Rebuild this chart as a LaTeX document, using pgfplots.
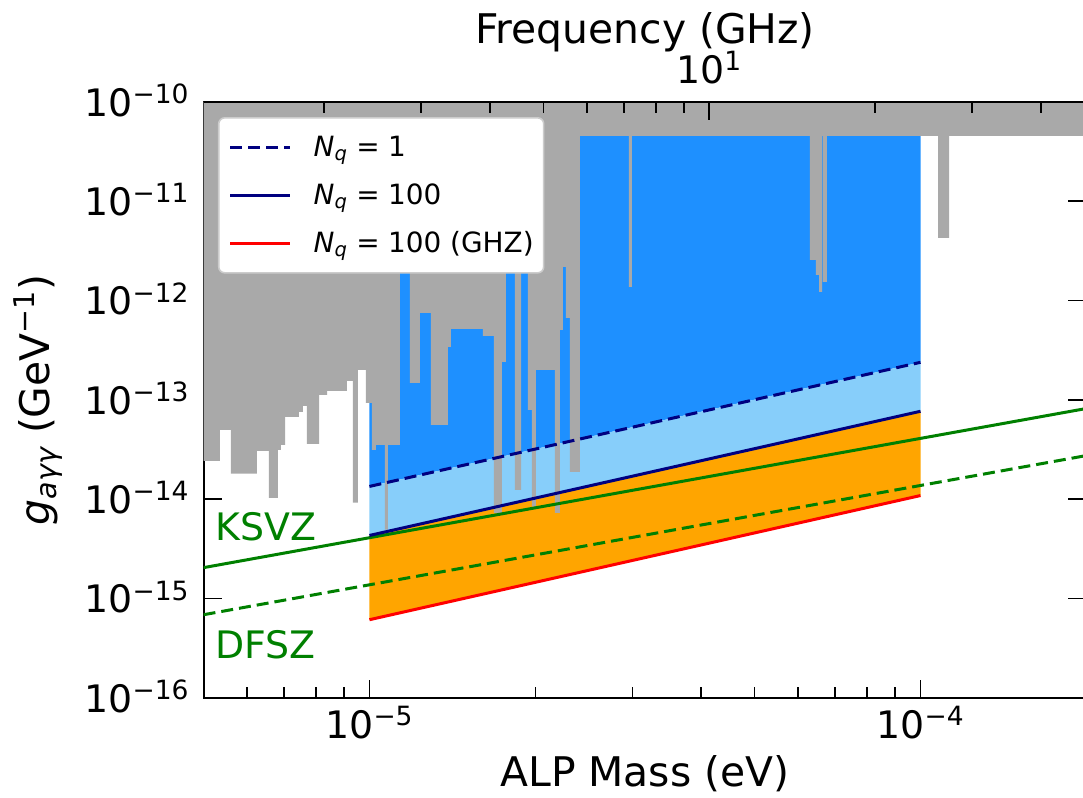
\documentclass[border=0pt]{standalone}
\usepackage{fontspec}
\setmainfont{DejaVu Sans}
\usepackage{pgfplots}
\pgfplotsset{compat=1.18}
\definecolor{greyreg}{RGB}{169,169,169}
\definecolor{dodger}{RGB}{30,144,255}
\definecolor{lskyblue}{RGB}{135,206,250}
\definecolor{orng}{RGB}{255,165,0}
\definecolor{navyc}{RGB}{0,0,128}
\definecolor{greenc}{RGB}{0,128,0}
\newcommand{\nq}{{\itshape N}\textsubscript{\itshape q}\hspace{0.3em}=\hspace{0.3em}}
\begin{document}
\begin{tikzpicture}
\begin{axis}[
  at={(0,0)}, anchor=south west,
  scale only axis, width=441.4bp, height=298bp,
  xmode=log, ymode=log,
  xmin=5e-6, xmax=2e-4, ymin=1e-16, ymax=1e-10,
  axis line style={line width=1bp},
  tick style={line width=0.8bp, black},
  major tick length=9bp, minor tick length=5.5bp,
  tick align=inside,
  xtick pos=left, ytick pos=both, yticklabel pos=left,
  xtick={1e-5,1e-4},
  xticklabels={10\textsuperscript{−5},10\textsuperscript{−4}},
  minor xtick={6e-6,7e-6,8e-6,9e-6,2e-5,3e-5,4e-5,5e-5,6e-5,7e-5,8e-5,9e-5},
  ytick={1e-16,1e-15,1e-14,1e-13,1e-12,1e-11,1e-10},
  yticklabels={10\textsuperscript{−16},10\textsuperscript{−15},10\textsuperscript{−14},10\textsuperscript{−13},10\textsuperscript{−12},10\textsuperscript{−11},10\textsuperscript{−10}},
  yminorticks=false,
  tick label style={font=\fontsize{19}{22}\selectfont},
  xticklabel style={anchor=base, inner sep=0pt, yshift=-20.15bp},
  yticklabel style={anchor=base east, inner sep=0pt, xshift=-6.8bp, yshift=-7.2bp},
  xlabel={ALP Mass (eV)},
  xlabel style={at={(axis description cs:0.5,-0.1482)}, anchor=base, inner sep=0pt, font=\fontsize{20.5}{24}\selectfont},
  ylabel={{\itshape g}\textsubscript{\itshape aγγ} (GeV\textsuperscript{−1})},
  ylabel style={at={(axis description cs:-0.174,0.5)}, anchor=base, inner sep=0pt, font=\fontsize{20.5}{24}\selectfont},
  legend cell align=left,
  legend style={at={(axis description cs:0.0163,0.9743)}, anchor=north west,
    draw=black!20, line width=0.8bp, rounded corners=3bp, fill=white,
    inner xsep=5bp, inner ysep=2.75bp, font=\fontsize{14}{16}\selectfont,
    nodes={inner sep=0pt, minimum height=24bp},
    /tikz/every odd column/.append style={column sep=11bp},
    /tikz/every even column/.append style={column sep=0bp}},
  legend image code/.code={\draw[#1] (0bp,0bp) -- (30bp,0bp);},
]
% projected sensitivity regions
\addplot[fill=dodger, draw=none, forget plot] coordinates {(1e-5,4.52e-11) (1e-4,4.52e-11) (1e-4,2.38e-13) (1e-5,1.34e-14)} -- cycle;
\addplot[fill=lskyblue, draw=none, forget plot] coordinates {(1e-5,1.34e-14) (1e-4,2.38e-13) (1e-4,7.65e-14) (1e-5,4.3e-15)} -- cycle;
\addplot[fill=orng, draw=none, forget plot] coordinates {(1e-5,4.3e-15) (1e-4,7.65e-14) (1e-4,1.085e-14) (1e-5,6.1e-16)} -- cycle;
% existing limits
\addplot[fill=greyreg, draw=none, forget plot] coordinates {
(5e-6,1e-10)
(5e-6,2.43e-14) (5.355e-6,2.43e-14)
(5.355e-6,4.98e-14) (5.606e-6,4.98e-14)
(5.606e-6,1.80e-14) (6.25e-6,1.80e-14)
(6.25e-6,3.06e-14) (6.57e-6,3.06e-14)
(6.57e-6,1.03e-14) (6.82e-6,1.03e-14)
(6.82e-6,3.13e-14) (6.91e-6,3.13e-14)
(6.91e-6,3.52e-14) (7.03e-6,3.52e-14)
(7.03e-6,6.73e-14) (7.45e-6,6.73e-14)
(7.45e-6,7.55e-14) (7.57e-6,7.55e-14)
(7.57e-6,8.68e-14) (7.70e-6,8.68e-14)
(7.70e-6,3.60e-14) (8.10e-6,3.60e-14)
(8.10e-6,1.12e-13) (8.375e-6,1.12e-13)
(8.375e-6,1.23e-13) (9.10e-6,1.23e-13)
(9.10e-6,1.55e-13) (9.333e-6,1.55e-13)
(9.333e-6,9.18e-15) (9.53e-6,9.18e-15)
(9.53e-6,2.00e-13) (9.85e-6,2.00e-13)
(9.85e-6,9.31e-14) (1.0105e-5,9.31e-14)
(1.0105e-5,3.13e-14) (1.0275e-5,3.13e-14)
(1.0275e-5,3.52e-14) (1.067e-5,3.52e-14)
(1.067e-5,4.91e-15) (1.080e-5,4.91e-15)
(1.080e-5,3.52e-14) (1.136e-5,3.52e-14)
(1.136e-5,3.22e-12) (1.184e-5,3.22e-12)
(1.184e-5,1.48e-13) (1.235e-5,1.48e-13)
(1.235e-5,7.48e-13) (1.293e-5,7.48e-13)
(1.293e-5,5.59e-14) (1.388e-5,5.59e-14)
(1.388e-5,3.40e-13) (1.406e-5,3.40e-13)
(1.406e-5,5.17e-13) (1.607e-5,5.17e-13)
(1.607e-5,4.39e-13) (1.682e-5,4.39e-13)
(1.682e-5,7.28e-15) (1.740e-5,7.28e-15)
(1.740e-5,2.41e-13) (1.769e-5,2.41e-13)
(1.769e-5,3.22e-12) (1.837e-5,3.22e-12)
(1.837e-5,1.24e-14) (1.884e-5,1.24e-14)
(1.884e-5,3.22e-12) (1.940e-5,3.22e-12)
(1.940e-5,7.91e-14) (1.972e-5,7.91e-14)
(1.972e-5,8.37e-15) (2.005e-5,8.37e-15)
(2.005e-5,2.00e-13) (2.171e-5,2.00e-13)
(2.171e-5,7.28e-15) (2.217e-5,7.28e-15)
(2.217e-5,5.05e-13) (2.245e-5,5.05e-13)
(2.245e-5,2.17e-12) (2.273e-5,2.17e-12)
(2.273e-5,6.67e-13) (2.311e-5,6.67e-13)
(2.311e-5,1.88e-14) (2.410e-5,1.88e-14)
(2.410e-5,4.52e-11) (2.958e-5,4.52e-11)
(2.958e-5,1.37e-12) (2.995e-5,1.37e-12)
(2.995e-5,4.52e-11) (6.30e-5,4.52e-11)
(6.30e-5,2.56e-12) (6.46e-5,2.56e-12)
(6.46e-5,1.81e-12) (6.545e-5,1.81e-12)
(6.545e-5,1.22e-12) (6.627e-5,1.22e-12)
(6.627e-5,4.52e-11) (6.653e-5,4.52e-11)
(6.653e-5,1.535e-12) (6.766e-5,1.535e-12)
(6.766e-5,4.52e-11) (1.076e-4,4.52e-11)
(1.076e-4,4.25e-12) (1.127e-4,4.25e-12)
(1.127e-4,4.52e-11) (2e-4,4.52e-11)
(2e-4,1e-10)
} -- cycle;
% axion models
\addplot[greenc, line width=1.5bp, forget plot] coordinates {(5e-6,2.04e-15) (2e-4,8.16e-14)};
\addplot[greenc, line width=1.5bp, dash pattern=on 6bp off 3bp, forget plot] coordinates {(5e-6,6.85e-16) (2e-4,2.74e-14)};
% sensitivity lines
\addplot[navyc, line width=1.5bp, dash pattern=on 6bp off 3bp] coordinates {(1e-5,1.34e-14) (1e-4,2.38e-13)};
\addlegendentry{\nq 1}
\addplot[navyc, line width=1.5bp] coordinates {(1e-5,4.3e-15) (1e-4,7.65e-14)};
\addlegendentry{\nq 100}
\addplot[red, line width=1.5bp] coordinates {(1e-5,6.1e-16) (1e-4,1.085e-14)};
\addlegendentry{\nq 100 (GHZ)}
\node[anchor=base west, text=greenc, inner sep=0pt, font=\fontsize{19}{22}\selectfont] at (axis description cs:0.0129,0.2646) {KSVZ};
\node[anchor=base west, text=greenc, inner sep=0pt, font=\fontsize{19}{22}\selectfont] at (axis description cs:0.0129,0.0666) {DFSZ};
\end{axis}
\begin{axis}[
  at={(0,0)}, anchor=south west,
  scale only axis, width=441.4bp, height=298bp,
  xmode=log, ymode=log,
  xmin=5e-6, xmax=2e-4, ymin=1e-16, ymax=1e-10,
  axis x line*=top, axis y line=none,
  axis line style={line width=1bp},
  tick style={line width=0.8bp, black},
  major tick length=9bp, minor tick length=5.5bp,
  tick align=inside,
  xtick={4.1357e-5},
  xticklabels={10\textsuperscript{1}},
  minor xtick={8.2714e-6,1.2407e-5,1.6543e-5,2.0679e-5,2.4814e-5,2.8950e-5,3.3086e-5,3.7221e-5,8.2714e-5,1.2407e-4,1.6543e-4},
  tick label style={font=\fontsize{19}{22}\selectfont},
  xticklabel style={anchor=base, inner sep=0pt, yshift=9.2bp},
  xlabel={Frequency (GHz)},
  xlabel style={at={(axis description cs:0.5,1.0985)}, anchor=base, inner sep=0pt, font=\fontsize{20.5}{24}\selectfont},
]
\end{axis}
\pgfresetboundingbox
\useasboundingbox (-101.8bp,-50.15bp) rectangle (439.7bp,348.85bp);
\end{tikzpicture}
\end{document}
